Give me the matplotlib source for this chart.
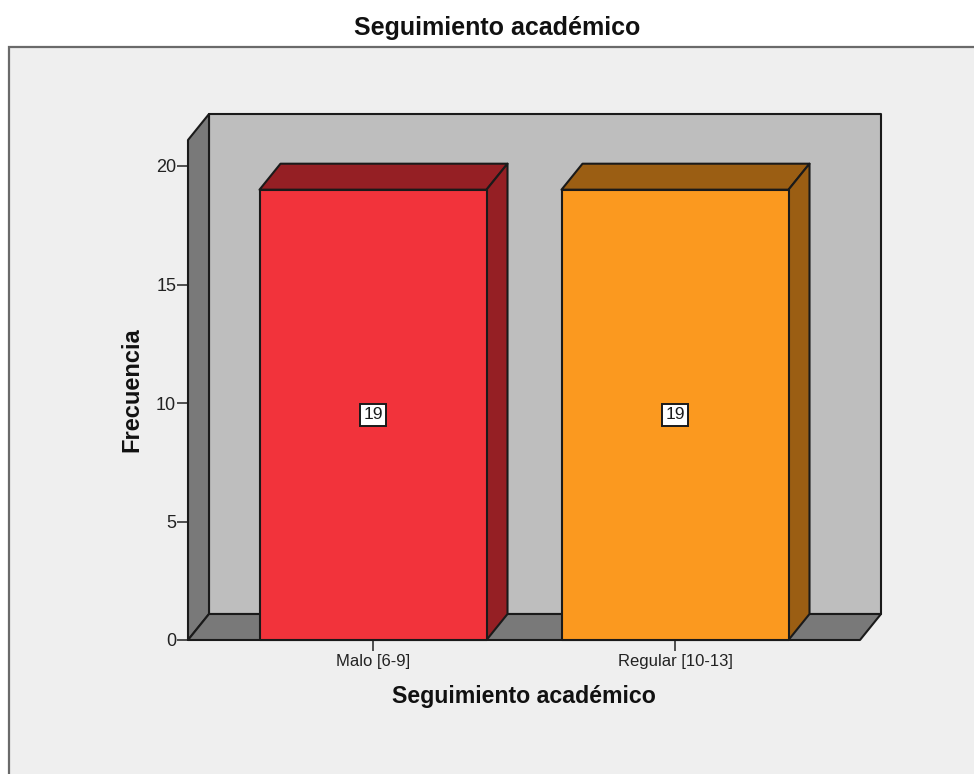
import matplotlib
matplotlib.use("Agg")
import matplotlib.pyplot as plt
from matplotlib.patches import Polygon, Rectangle

categories = ["Malo [6-9]", "Regular [10-13]"]
frequencies = [19, 19]
y_ticks = [0, 5, 10, 15, 20]
title = "Seguimiento académico"
x_label = "Seguimiento académico"
y_label = "Frecuencia"

front_colors = ["#F2333B", "#FB991F"]
side_colors = ["#951F24", "#9B5E13"]
top_colors = ["#951F24", "#9B5E13"]
WALL = "#BEBEBE"
SHADE = "#797979"
LINE = "#1A1A1A"
BG = "#EFEFEF"

plt.rcParams["font.family"] = ["Liberation Sans", "DejaVu Sans"]

W, H = 974, 774
fig = plt.figure(figsize=(W / 100, H / 100), dpi=100, facecolor="white")
fig.add_artist(Rectangle((9 / W, -0.02), 1.02, 1.02 - 47 / H, transform=fig.transFigure,
                         facecolor=BG, edgecolor="#6A6A6A", linewidth=1.6, zorder=-1))

ax = fig.add_axes([188 / W, 1 - 640 / H, 672 / W, 500 / H])
ax.patch.set_visible(False)
PX_X = 302.0
PX_Y = 23.7
x0 = -(373 - 188) / PX_X
x1 = x0 + 672 / PX_X
ymax = 500 / PX_Y
ax.set_xlim(x0, x1)
ax.set_ylim(0, ymax)
DX = 21 / PX_X
DY = 26 / PX_Y
BAR_W = 227 / PX_X


def poly(pts, color, z):
    ax.add_patch(Polygon(pts, closed=True, facecolor=color, edgecolor=LINE,
                         linewidth=1.5, joinstyle="round", clip_on=False, zorder=z))


# back wall, left wall, floor
poly([(x0 + DX, DY), (x1 + DX, DY), (x1 + DX, ymax + DY), (x0 + DX, ymax + DY)], WALL, 1)
poly([(x0, 0), (x0 + DX, DY), (x0 + DX, ymax + DY), (x0, ymax)], SHADE, 2)
poly([(x0, 0), (x1, 0), (x1 + DX, DY), (x0 + DX, DY)], SHADE, 2)

# bars
for i, v in enumerate(frequencies):
    l, r = i - BAR_W / 2, i + BAR_W / 2
    poly([(l, v), (r, v), (r + DX, v + DY), (l + DX, v + DY)], top_colors[i], 3)
    poly([(r, 0), (r + DX, DY), (r + DX, v + DY), (r, v)], side_colors[i], 3)
    poly([(l, 0), (r, 0), (r, v), (l, v)], front_colors[i], 4)
    ax.text(i, v / 2, str(v), ha="center", va="center", fontsize=12.5,
            color="#1A1A1A", zorder=6,
            bbox=dict(boxstyle="square,pad=0.2", facecolor="white", edgecolor=LINE, linewidth=1.4))

for s in ax.spines.values():
    s.set_visible(False)
ax.set_xticks(range(len(categories)), categories)
ax.set_yticks(y_ticks)
ax.tick_params(axis="y", length=8, width=1.2, color="#333333", labelsize=13, pad=0.5, labelcolor="#222222")
ax.tick_params(axis="x", length=8, width=1.2, color="#333333", labelsize=12, pad=2, labelcolor="#222222")

fig.text(497 / W, 1 - 28 / H, title, ha="center", va="center", fontsize=18,
         fontweight="bold", color="#111111")
fig.text(524 / W, 1 - 697 / H, x_label, ha="center", va="center", fontsize=16.7,
         fontweight="bold", color="#111111")
fig.text(132 / W, 1 - 390 / H, y_label, ha="center", va="center", rotation=90, fontsize=17,
         fontweight="bold", color="#111111")

fig.savefig("out.png", dpi=100, facecolor="white")
